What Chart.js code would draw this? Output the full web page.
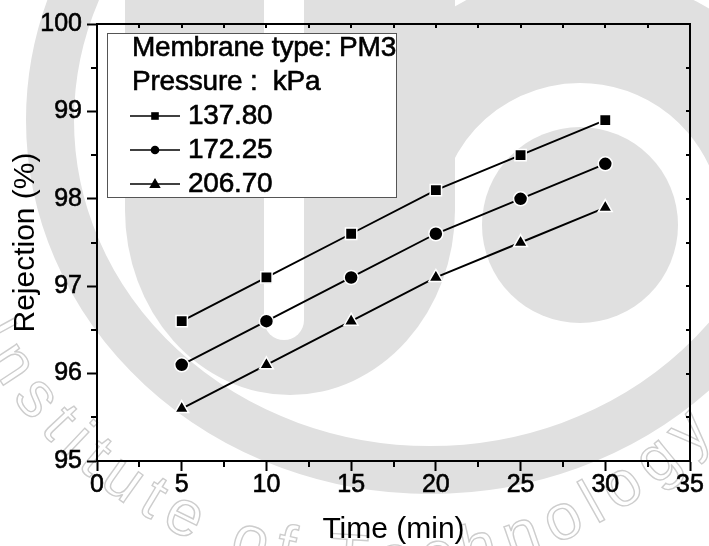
<!DOCTYPE html>
<html>
<head>
<meta charset="utf-8">
<title>Rejection vs time</title>
<script src="https://cdn.jsdelivr.net/npm/chart.js@4.4.1/dist/chart.umd.min.js"></script>
<style>
  html, body { margin: 0; padding: 0; background: #fff; }
  #rejectionChart { display: block; }
</style>
</head>
<body>
<canvas id="rejectionChart" width="709" height="546"></canvas>
<script>
// Rejection (%) of membrane PM3 over time, at three operating pressures
const times = [5, 10, 15, 20, 25, 30];
const rejection137 = [96.6, 97.1, 97.6, 98.1, 98.5, 98.9];
const rejection172 = [96.1, 96.6, 97.1, 97.6, 98.0, 98.4];
const rejection206 = [95.6, 96.1, 96.6, 97.1, 97.5, 97.9];
const pressureLabels = ["137.80", "172.25", "206.70"];
const pointStyles = ["rect", "circle", "triangle"];
const legendHeader = ["Membrane type: PM3", "Pressure :  kPa"];
const xRange = [0, 35];
const yRange = [95, 100];
const xStep = 5;
const yStep = 1;

const FONT = "'Liberation Sans', Arial, sans-serif";
const GREY = "#e0e0e0";

function toPoints(values) {
  return times.map((t, i) => ({ x: t, y: values[i] }));
}

const seriesValues = [rejection137, rejection172, rejection206];
const pointRadii = [8, 7, 8];

const datasets = seriesValues.map((values, i) => ({
  label: pressureLabels[i],
  data: toPoints(values),
  borderColor: "#000",
  backgroundColor: "#000",
  borderWidth: 1.9,
  tension: 0,
  pointStyle: pointStyles[i],
  pointRadius: pointRadii[i],
  pointBackgroundColor: "#000",
  pointBorderColor: "#fff",
  pointBorderWidth: 1.5,
}));

// light institute emblem behind the plot
const watermark = {
  id: "watermark",
  beforeDraw(chart) {
    const ctx = chart.ctx;
    ctx.save();
    ctx.fillStyle = "#fff";
    ctx.fillRect(0, 0, chart.width, chart.height);

    // outer ring
    ctx.strokeStyle = GREY;
    ctx.lineWidth = 48;
    ctx.beginPath();
    ctx.ellipse(430, 120, 380, 350, 0, 0, Math.PI * 2);
    ctx.stroke();

    // arc over the small disc
    ctx.lineWidth = 110;
    ctx.beginPath();
    ctx.arc(580, 225, 197, Math.PI * 1.05, Math.PI * 2);
    ctx.stroke();

    // U shape
    ctx.fillStyle = GREY;
    ctx.beginPath();
    ctx.moveTo(125, -10);
    ctx.lineTo(125, 210);
    ctx.ellipse(290, 210, 165, 185, 0, Math.PI, 0, true);
    ctx.lineTo(455, -10);
    ctx.closePath();
    ctx.fill();

    // slot inside the U
    ctx.fillStyle = "#fff";
    ctx.beginPath();
    ctx.moveTo(264, -10);
    ctx.lineTo(264, 320);
    ctx.arc(284, 320, 20, Math.PI, 0, true);
    ctx.lineTo(304, -10);
    ctx.closePath();
    ctx.fill();

    // small disc
    ctx.fillStyle = GREY;
    ctx.beginPath();
    ctx.arc(580, 225, 98, 0, Math.PI * 2);
    ctx.fill();

    // outlined lettering along the bottom
    ctx.font = "64px " + FONT;
    ctx.strokeStyle = "#cdcdcd";
    ctx.lineWidth = 1.4;
    ctx.textAlign = "center";
    ctx.textBaseline = "middle";
    const motto = "Institute of Technology";
    const cx = 378, cy = 122, r = 440, gap = 9;
    let angle = 153 * Math.PI / 180;
    for (const ch of motto) {
      const w = ctx.measureText(ch).width + gap;
      const a = angle - (w / 2) / r;
      ctx.save();
      ctx.translate(cx + r * Math.cos(a), cy + r * Math.sin(a));
      ctx.rotate(a - Math.PI / 2);
      ctx.strokeText(ch, 0, 0);
      ctx.restore();
      angle -= w / r;
    }
    ctx.restore();
  },
};

// closed frame, minor ticks and inward ticks on top/right
const frame = {
  id: "frame",
  afterDraw(chart) {
    const { ctx, chartArea: a, scales: { x, y } } = chart;
    ctx.save();
    ctx.strokeStyle = "#000";
    ctx.lineWidth = 2;
    ctx.beginPath();
    ctx.moveTo(a.left, a.top);
    ctx.lineTo(a.right, a.top);
    ctx.lineTo(a.right, a.bottom);
    ctx.stroke();

    ctx.beginPath();
    for (let v = xRange[0]; v <= xRange[1]; v += xStep / 2) {
      const px = Math.round(x.getPixelForValue(v));
      if (v % xStep !== 0) {
        ctx.moveTo(px, a.bottom);
        ctx.lineTo(px, a.bottom + 6);
      }
      ctx.moveTo(px, a.top);
      ctx.lineTo(px, a.top + 4);
    }
    for (let v = yRange[0]; v <= yRange[1]; v += yStep / 2) {
      const py = Math.round(y.getPixelForValue(v));
      if (v % yStep !== 0) {
        ctx.moveTo(a.left, py);
        ctx.lineTo(a.left - 6, py);
      }
      ctx.moveTo(a.right, py);
      ctx.lineTo(a.right - 4, py);
    }
    ctx.stroke();
    ctx.restore();
  },
};

function drawMarker(ctx, style, cx, cy, s) {
  ctx.beginPath();
  if (style === "rect") {
    ctx.rect(cx - s, cy - s, 2 * s, 2 * s);
  } else if (style === "circle") {
    ctx.arc(cx, cy, s, 0, Math.PI * 2);
  } else {
    ctx.moveTo(cx, cy - s * 1.15);
    ctx.lineTo(cx + s * 1.1, cy + s * 0.75);
    ctx.lineTo(cx - s * 1.1, cy + s * 0.75);
    ctx.closePath();
  }
  ctx.fill();
}

// boxed legend with two header lines
const pressureLegend = {
  id: "pressureLegend",
  afterDraw(chart) {
    const ctx = chart.ctx;
    const box = { left: 107, top: 33, width: 289, height: 164 };
    const rowH = 34;
    const markerSize = [3.8, 4.3, 5.2];
    ctx.save();
    ctx.fillStyle = "#fff";
    ctx.fillRect(box.left, box.top, box.width, box.height);
    ctx.strokeStyle = "#555";
    ctx.lineWidth = 1;
    ctx.strokeRect(box.left + 0.5, box.top + 0.5, box.width, box.height);

    ctx.fillStyle = "#000";
    ctx.strokeStyle = "#000";
    ctx.font = "28px " + FONT;
    ctx.textBaseline = "middle";
    ctx.letterSpacing = "-0.2px";
    legendHeader.forEach((t, i) => {
      const ty = box.top + 15 + i * rowH;
      ctx.lineWidth = 0.6;
      ctx.fillText(t, box.left + 25, ty);
      ctx.strokeText(t, box.left + 25, ty);
    });
    chart.data.datasets.forEach((ds, i) => {
      const yy = box.top + 15 + (i + 2) * rowH;
      ctx.lineWidth = 1.6;
      ctx.beginPath();
      ctx.moveTo(box.left + 23, yy);
      ctx.lineTo(box.left + 73, yy);
      ctx.stroke();
      drawMarker(ctx, ds.pointStyle, box.left + 48, yy, markerSize[i]);
      ctx.lineWidth = 0.6;
      ctx.fillText(ds.label, box.left + 81, yy);
      ctx.strokeText(ds.label, box.left + 81, yy);
    });
    ctx.restore();
  },
};

const tickFont = { family: FONT, size: 25, lineHeight: 1 };
const titleFont = { family: FONT, size: 30 };

new Chart(document.getElementById("rejectionChart"), {
  type: "line",
  data: { datasets },
  options: {
    responsive: false,
    animation: false,
    devicePixelRatio: 1,
    layout: { padding: { top: 24, right: 19, left: 0, bottom: 0 } },
    plugins: {
      legend: { display: false },
      tooltip: { enabled: false },
    },
    scales: {
      x: {
        type: "linear",
        min: xRange[0],
        max: xRange[1],
        afterFit(scale) { scale.height = 85; },
        ticks: {
          stepSize: xStep,
          color: "#000",
          padding: 2,
          maxRotation: 0,
          textStrokeColor: "#000",
          textStrokeWidth: 0.6,
          font: tickFont,
        },
        grid: {
          drawOnChartArea: false,
          drawTicks: true,
          tickLength: 10,
          tickWidth: 2,
          tickColor: "#000",
          color: "#000",
        },
        border: { color: "#000", width: 2 },
        title: {
          display: true,
          text: "Time (min)",
          color: "#000",
          padding: 0,
          font: { ...titleFont, lineHeight: 1.1 },
        },
      },
      y: {
        type: "linear",
        min: yRange[0],
        max: yRange[1],
        afterFit(scale) { scale.width = 97; },
        ticks: {
          stepSize: yStep,
          color: "#000",
          padding: 5,
          textStrokeColor: "#000",
          textStrokeWidth: 0.6,
          font: tickFont,
        },
        grid: {
          drawOnChartArea: false,
          drawTicks: true,
          tickLength: 10,
          tickWidth: 2,
          tickColor: "#000",
          color: "#000",
        },
        border: { color: "#000", width: 2 },
        title: {
          display: true,
          text: "Rejection (%)",
          color: "#000",
          padding: { top: 8, bottom: 0 },
          font: { ...titleFont, lineHeight: 1.2 },
        },
      },
    },
  },
  plugins: [watermark, frame, pressureLegend],
});
</script>
</body>
</html>
